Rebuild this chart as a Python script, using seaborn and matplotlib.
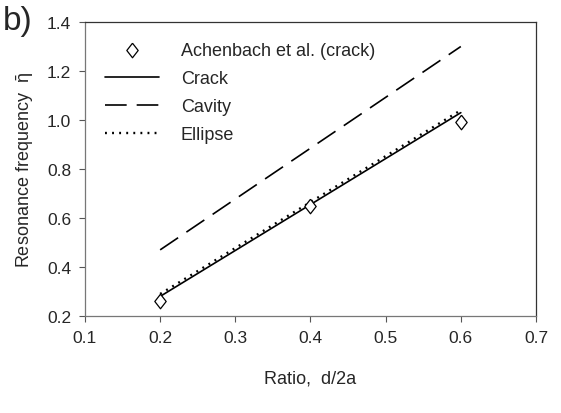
import matplotlib
matplotlib.use("Agg")
import matplotlib.pyplot as plt
import seaborn as sns
import pandas as pd

sns.set_theme(style="ticks")
plt.rcParams['font.family'] = ['Liberation Sans', 'DejaVu Sans']
plt.rcParams['mathtext.default'] = 'regular'

ratio = [0.2, 0.4, 0.6]
achenbach = [0.26, 0.65, 0.99]
crack = [0.28, 0.655, 1.03]
cavity = [0.47, 0.885, 1.30]
ellipse = [0.29, 0.665, 1.04]

diamond = [(0, 1), (0.78, 0), (0, -1), (-0.78, 0), (0, 1)]

fig = plt.figure(figsize=(5.61, 4.14), dpi=100)
ax = fig.add_axes([0.1515, 0.2343, 0.8039, 0.7101])

sns.scatterplot(x=ratio, y=achenbach, ax=ax, marker=diamond, s=110, facecolor='white',
                edgecolor='black', linewidth=0.9, label='Achenbach et al. (crack)', zorder=3)
sns.lineplot(x=ratio, y=crack, ax=ax, color='black', linewidth=1.2, label='Crack')
sns.lineplot(x=ratio, y=cavity, ax=ax, color='black', linewidth=1.2, label='Cavity')
ax.lines[-1].set_dashes([13, 6])
sns.lineplot(x=ratio, y=ellipse, ax=ax, color='black', linewidth=1.7, label='Ellipse')
ax.lines[-1].set_dashes([0.8, 2.2])

ax.set_xlim(0.1, 0.7)
ax.set_ylim(0.2, 1.4)
ax.set_xticks([0.1, 0.2, 0.3, 0.4, 0.5, 0.6, 0.7])
ax.set_yticks([0.2, 0.4, 0.6, 0.8, 1.0, 1.2, 1.4])
ax.set_xticklabels(['0.1', '0.2', '0.3', '0.4', '0.5', '0.6', '0.7'])
ax.set_yticklabels(['0.2', '0.4', '0.6', '0.8', '1.0', '1.2', '1.4'])
ax.tick_params(labelsize=12.5, length=4, width=0.8, color='#555555', pad=6)
for s in ax.spines.values():
    s.set_visible(True)
    s.set_color('#333333')
    s.set_linewidth(0.9)
ax.spines['left'].set_color('#777777')
ax.spines['bottom'].set_color('#777777')

ax.set_xlabel('Ratio,  d/2a', fontsize=13, labelpad=18)
ax.set_ylabel(r'Resonance frequency  $\bar{\eta}$', fontsize=13, labelpad=8)

leg = ax.legend(loc='upper left', frameon=False, fontsize=13, handlelength=3.0,
                bbox_to_anchor=(0.0, 1.0), borderaxespad=0.7, labelspacing=0.62,
                handletextpad=1.2)

fig.text(0.005, 0.985, 'b)', fontsize=24, ha='left', va='top')

fig.savefig('out.png', dpi=100)
